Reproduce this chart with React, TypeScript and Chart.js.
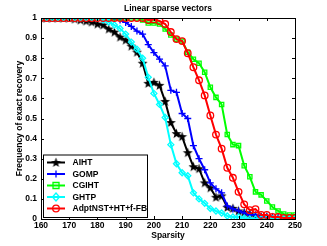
import React, { useEffect, useRef } from "react";
import { Chart, registerables } from "chart.js";

Chart.register(...registerables);

const sparsity = [160,162,164,166,168,170,172,174,176,178,180,182,184,186,188,190,192,194,196,198,200,202,204,206,208,210,212,214,216,218,220,222,224,226,228,230,232,234,236,238,240,242,244,246,248,250];

const aiht = [1,1,1,1,1,1,0.995,0.99,0.985,0.98,0.97,0.965,0.945,0.93,0.905,0.89,0.86,0.83,0.775,0.675,0.68,0.665,0.585,0.48,0.425,0.41,0.33,0.26,0.25,0.18,0.155,0.108,0.115,0.058,0.053,0.04,0.032,0.025,0.015,0.01,0.01,0.005,0.005,0,0,0];
const gomp = [1,1,1,1,1,1,1,1,1,1,1,1,1,0.995,0.99,0.978,0.958,0.935,0.92,0.868,0.828,0.795,0.762,0.64,0.63,0.525,0.5,0.365,0.3,0.245,0.18,0.15,0.13,0.065,0.05,0.04,0.03,0.02,0.02,0.01,0.01,0.005,0.005,0.005,0,0];
const cgiht = [1,1,1,1,1,1,1,1,1,1,1,1,1,1,1,1,1,1,0.99,0.975,0.975,0.97,0.945,0.915,0.895,0.885,0.83,0.795,0.775,0.73,0.655,0.605,0.57,0.42,0.37,0.365,0.265,0.21,0.135,0.12,0.09,0.06,0.04,0.025,0.02,0.02];
const ghtp = [1,1,1,1,1,1,1,1,1,1,1,0.99,0.98,0.965,0.948,0.92,0.88,0.845,0.8,0.705,0.625,0.57,0.505,0.37,0.275,0.23,0.215,0.13,0.1,0.078,0.052,0.04,0.03,0.015,0.01,0.01,0.005,0,0,0,0,0,0,0,0,0];
const adpt = [1,1,1,1,1,1,1,1,1,1,1,1,1,1,1,1,1,1,1,0.99,0.993,0.985,0.97,0.93,0.895,0.885,0.825,0.755,0.69,0.615,0.515,0.42,0.35,0.255,0.205,0.135,0.073,0.044,0.049,0.02,0.02,0.01,0.01,0.005,0.005,0.005];

const xTicks = [160,170,180,190,200,210,220,230,240,250];
const yTicks = [0,0.1,0.2,0.3,0.4,0.5,0.6,0.7,0.8,0.9,1];
const seriesNames = ["AIHT","GOMP","CGIHT","GHTP","AdptNST+HT+f-FB"];
const titleText = "Linear sparse vectors";
const xTitle = "Sparsity";
const yTitle = "Frequency of exact recovery";

const FONT = "bold 8.5px 'Liberation Sans', Arial, sans-serif";

function makeStar(): HTMLCanvasElement {
  const c = document.createElement("canvas");
  c.width = 11; c.height = 11;
  const g = c.getContext("2d")!;
  g.beginPath();
  const cx = 5.5, cy = 5.8, R = 5.2, r = 2.1;
  for (let i = 0; i < 10; i++) {
    const rad = i % 2 === 0 ? R : r;
    const a = -Math.PI / 2 + (i * Math.PI) / 5;
    const px = cx + rad * Math.cos(a), py = cy + rad * Math.sin(a);
    if (i === 0) g.moveTo(px, py); else g.lineTo(px, py);
  }
  g.closePath();
  g.fillStyle = "#000";
  g.fill();
  return c;
}

function drawMarker(ctx: CanvasRenderingContext2D, kind: string, x: number, y: number, color: string, star: HTMLCanvasElement) {
  ctx.save();
  ctx.strokeStyle = color;
  ctx.lineWidth = 1.3;
  ctx.beginPath();
  if (kind === "star") {
    ctx.drawImage(star, x - star.width / 2, y - star.height / 2);
  } else if (kind === "cross") {
    ctx.moveTo(x - 3.5, y); ctx.lineTo(x + 3.5, y);
    ctx.moveTo(x, y - 3.5); ctx.lineTo(x, y + 3.5);
    ctx.stroke();
  } else if (kind === "rect") {
    ctx.rect(x - 3, y - 3, 6, 6);
    ctx.stroke();
  } else if (kind === "rectRot") {
    ctx.moveTo(x, y - 4); ctx.lineTo(x + 3.5, y); ctx.lineTo(x, y + 4); ctx.lineTo(x - 3.5, y); ctx.closePath();
    ctx.stroke();
  } else {
    ctx.arc(x, y, 3.3, 0, Math.PI * 2);
    ctx.stroke();
  }
  ctx.restore();
}

export default function App() {
  const ref = useRef<HTMLCanvasElement>(null);
  useEffect(() => {
    if (!ref.current) return;
    const star = makeStar();
    const colors = ["#000000", "#0000ff", "#00ff00", "#00ffff", "#ff0000"];
    const styles = ["star", "cross", "rect", "rectRot", "circle"];
    const values = [aiht, gomp, cgiht, ghtp, adpt];
    const datasets = values.map((vals, i) => ({
      label: seriesNames[i],
      data: sparsity.map((s, j) => ({ x: s, y: vals[j] })),
      borderColor: colors[i],
      backgroundColor: "rgba(0,0,0,0)",
      borderWidth: 2,
      pointStyle: (i === 0 ? star : styles[i]) as any,
      pointRadius: i === 1 ? 3.5 : i === 4 ? 3.3 : 3,
      pointBorderWidth: 1.3,
      pointBorderColor: colors[i],
      pointBackgroundColor: "rgba(0,0,0,0)",
      order: 4 - i,
      tension: 0,
    }));

    const framePlugin = {
      id: "frame",
      afterDraw(chart: any) {
        const { ctx, chartArea: a, scales } = chart;
        ctx.save();
        ctx.strokeStyle = "#000";
        ctx.lineWidth = 1;
        ctx.strokeRect(Math.round(a.left) + 0.5, Math.round(a.top) + 0.5, Math.round(a.right - a.left), Math.round(a.bottom - a.top));
        ctx.beginPath();
        const tl = 3;
        xTicks.forEach((t) => {
          const x = Math.round(scales.x.getPixelForValue(t)) + 0.5;
          ctx.moveTo(x, a.bottom); ctx.lineTo(x, a.bottom - tl);
          ctx.moveTo(x, a.top); ctx.lineTo(x, a.top + tl);
        });
        yTicks.forEach((t) => {
          const y = Math.round(scales.y.getPixelForValue(t)) + 0.5;
          ctx.moveTo(a.left, y); ctx.lineTo(a.left + tl, y);
          ctx.moveTo(a.right, y); ctx.lineTo(a.right - tl, y);
        });
        ctx.stroke();

        // titles
        ctx.fillStyle = "#000";
        ctx.font = FONT;
        ctx.textAlign = "center";
        ctx.textBaseline = "middle";
        const cx = (a.left + a.right) / 2;
        ctx.fillText(titleText, cx, 8.5);
        ctx.fillText(xTitle, cx, 236);
        ctx.save();
        ctx.translate(20, (a.top + a.bottom) / 2);
        ctx.rotate(-Math.PI / 2);
        ctx.fillText(yTitle, 0, 0);
        ctx.restore();

        // legend
        const lx = 43, ly = 154.5, lw = 104, lh = 62.5;
        ctx.fillStyle = "#fff";
        ctx.fillRect(lx, ly, lw, lh);
        ctx.strokeRect(lx + 0.5, ly + 0.5, lw, lh);
        seriesNames.forEach((name, i) => {
          const y = 162.5 + i * 11.5;
          ctx.strokeStyle = colors[i];
          ctx.lineWidth = 2;
          ctx.beginPath();
          ctx.moveTo(47, y); ctx.lineTo(65, y);
          ctx.stroke();
          drawMarker(ctx, styles[i], 56, y, colors[i], star);
          ctx.fillStyle = "#000";
          ctx.font = FONT;
          ctx.textAlign = "left";
          ctx.textBaseline = "middle";
          ctx.fillText(name, 72.5, y + 0.5);
        });
        ctx.restore();
      },
    };

    const tickFont = { family: "'Liberation Sans', Arial, sans-serif", size: 8.5, weight: "bold" as const };

    const chart = new Chart(ref.current, {
      type: "line",
      data: { datasets: datasets as any },
      options: {
        animation: false,
        responsive: false,
        maintainAspectRatio: false,
        layout: { padding: { top: 18, right: 32, left: 0, bottom: 0 } },
        plugins: { legend: { display: false }, tooltip: { enabled: false }, title: { display: false } },
        scales: {
          x: {
            type: "linear",
            min: 160,
            max: 250,
            afterBuildTicks: (s: any) => { s.ticks = xTicks.map((v) => ({ value: v })); },
            afterFit: (s: any) => { s.height = 27; },
            grid: { display: false, drawTicks: false },
            border: { display: false },
            ticks: { color: "#000", font: tickFont, padding: 2, maxRotation: 0, autoSkip: false },
          },
          y: {
            type: "linear",
            min: 0,
            max: 1,
            afterBuildTicks: (s: any) => { s.ticks = yTicks.map((v) => ({ value: v })); },
            afterFit: (s: any) => { s.width = 41; },
            grid: { display: false, drawTicks: false },
            border: { display: false },
            ticks: {
              color: "#000",
              font: tickFont,
              padding: 4,
              autoSkip: false,
              callback: (v: any) => String(Math.round(Number(v) * 10) / 10),
            },
          },
        },
      },
      plugins: [framePlugin],
    });
    return () => chart.destroy();
  }, []);

  return (
    <div style={{ position: "fixed", left: 0, top: 0, width: 327, height: 246, background: "#fff" }}>
      <canvas ref={ref} width={327} height={246} style={{ width: 327, height: 246, display: "block" }} />
    </div>
  );
}
